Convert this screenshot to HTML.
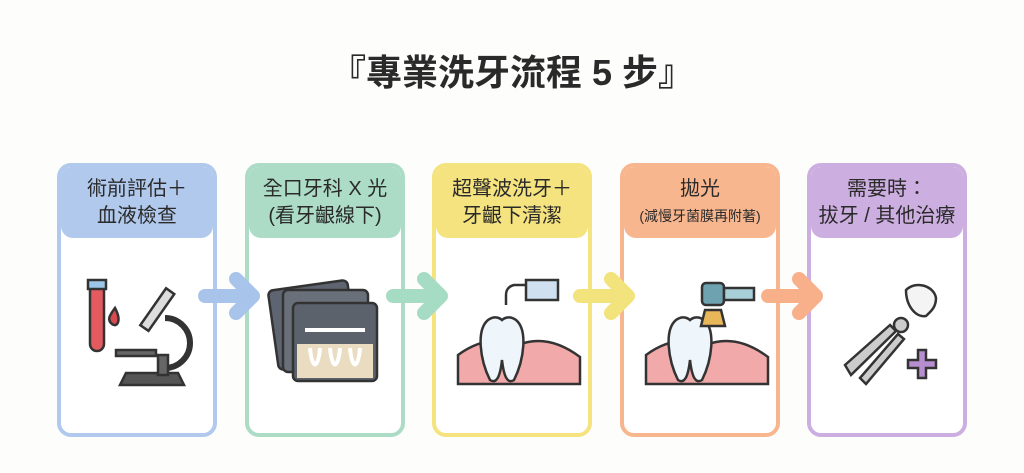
<!DOCTYPE html>
<html><head><meta charset="utf-8"><style>
body{margin:0;width:1024px;height:473px;background:#fdfdfc;position:relative;overflow:hidden;font-family:"Liberation Sans","Noto Sans CJK TC",sans-serif;}
.t{position:absolute;left:0;width:1024px;top:44px;text-align:center;font-size:36px;font-weight:bold;color:#2a2a2a;}
.c{position:absolute;top:163px;width:152px;height:266px;border:4px solid;border-radius:14px;background:#fff;overflow:hidden}
.h{height:71px;display:flex;flex-direction:column;justify-content:center;align-items:center;text-align:center;font-size:20px;color:#2a2a2a;line-height:27px;border-radius:0 0 12px 12px}
.s{font-size:14px}
svg{position:absolute}
</style></head><body>
<div class="t">『專業洗牙流程 5 步』</div>
<div class="c" style="left:57px;border-color:#b1c9ec"><div class="h" style="background:#b1c9ec">術前評估＋<br>血液檢查</div></div>
<div class="c" style="left:245px;border-color:#acdcc6"><div class="h" style="background:#acdcc6">全口牙科 X 光<br>(看牙齦線下)</div></div>
<div class="c" style="left:432px;border-color:#f4e37e"><div class="h" style="background:#f4e37e">超聲波洗牙＋<br>牙齦下清潔</div></div>
<div class="c" style="left:620px;border-color:#f8b68e"><div class="h" style="background:#f8b68e">拋光<br><span class="s">(減慢牙菌膜再附著)</span></div></div>
<div class="c" style="left:807px;border-color:#cdaee0"><div class="h" style="background:#cdaee0">需要時：<br>拔牙 / 其他治療</div></div>
<svg width="1024" height="473" viewBox="0 0 1024 473">
<g stroke-linecap="round" stroke-linejoin="round" fill="none" stroke-width="14">
<path d="M205 296H252M236 279L253 296L236 313" stroke="#a9c4ea"/>
<path d="M393 296H440M424 279L441 296L424 313" stroke="#a6dcc3"/>
<path d="M580 296H627M611 279L628 296L611 313" stroke="#f3e37d"/>
<path d="M768 296H815M799 279L816 296L799 313" stroke="#f8b08a"/>
</g>
<g stroke="#333" stroke-width="2.5">
<rect x="90" y="283" width="14" height="68" rx="7" fill="#e35a5f"/>
<rect x="88" y="280" width="18" height="9" fill="#9cc7e8"/>
<path d="M115 308c-6 8-8 12-3 16s10-3 3-16z" fill="#d94a50"/>
<rect x="152" y="287" width="10" height="45" transform="rotate(35 157 310)" fill="#ddd"/>
<path d="M165 318a25 25 0 0 1 0 50" fill="none" stroke-width="6"/>
<rect x="116" y="350" width="40" height="6" fill="#666"/>
<path d="M120 385h64l-6-12h-52z" fill="#555"/>
<rect x="158" y="355" width="10" height="20" fill="#666"/>
</g>
<g stroke="#333" stroke-width="2.5">
<rect x="273" y="285" width="80" height="80" rx="5" fill="#5f6570" transform="rotate(-8 313 325)"/>
<rect x="283" y="290" width="85" height="82" rx="5" fill="#6a707a"/>
<rect x="293" y="303" width="84" height="78" rx="5" fill="#5c626c"/>
<rect x="297" y="344" width="76" height="34" fill="#e9dcc0" stroke="none"/>
<path d="M305 330h60M310 348c2 22 8 22 10 0M330 348c2 22 8 22 10 0M350 348c2 22 8 22 10 0" stroke="#fff" stroke-width="4" fill="none"/>
</g>
<g stroke="#333" stroke-width="2.5">
<path d="M458 355q30-22 60-10q30-12 62 12v27h-122z" fill="#f2a9a9"/>
<path d="M488 320c-12 10-8 40 2 60c6 4 10-2 12-20c2 18 6 24 12 20c10-20 14-50 2-60c-8-6-14 0-14 0s-6-6-14 0z" fill="#eef5fb"/>
<path d="M506 305v-10q0-8 8-10h12" fill="none"/>
<path d="M526 280h32v20h-32z" fill="#cfe0f0"/>
</g>
<g stroke="#333" stroke-width="2.5">
<path d="M646 355q30-22 60-10q30-12 62 12v27h-122z" fill="#f2a9a9"/>
<path d="M676 320c-12 10-8 40 2 60c6 4 10-2 12-20c2 18 6 24 12 20c10-20 14-50 2-60c-8-6-14 0-14 0s-6-6-14 0z" fill="#eef5fb"/>
<rect x="702" y="283" width="22" height="22" rx="4" fill="#6fa2b0"/>
<path d="M724 288h30v12h-30z" fill="#a8cfd8"/>
<path d="M705 310h16l4 16h-24z" fill="#e8b75a"/>
</g>
<g stroke="#333" stroke-width="2.5" fill="#ccc">
<path d="M845 365l45-40l6 6l-45 44z"/>
<path d="M860 378l38-44l6 5l-38 45z"/>
<circle cx="901" cy="325" r="7"/>
<path d="M906 290c10-10 28-4 30 8c0 10-6 14-10 18c-10 2-20-10-20-26z" fill="#f4f4f4"/>
<path d="M918 350h8v10h10v8h-10v10h-8v-10h-10v-8h10z" fill="#b78ed0"/>
</g>
</svg>
</body></html>
